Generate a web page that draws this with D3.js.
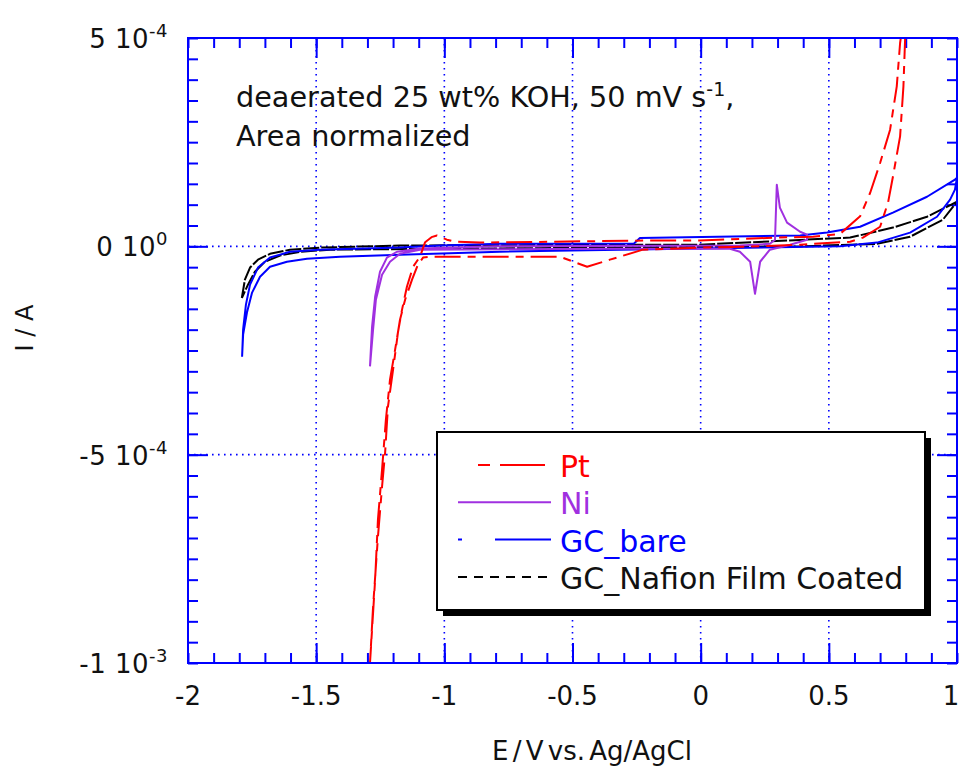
<!DOCTYPE html>
<html>
<head>
<meta charset="utf-8">
<script src="https://cdn.jsdelivr.net/npm/d3@7"></script>
<style>
    body { margin: 0; background: #fff; }
    text { font-family: "DejaVu Sans", sans-serif; }
</style>
</head>
<body>
<div id="chart-area"></div>
<script>
// currents are stored in units of 1e-4 A
const unit = 1e-4;

//Pt (dashed red)
const ptE = [-1.300, -1.290, -1.278, -1.259, -1.243, -1.231, -1.220, -1.200, -1.181, -1.165, -1.146, -1.122, -1.095, -1.075, -1.050, -1.029, -0.990, -0.958, -0.861, -0.588, -0.198, -0.003, 0.298, 0.438, 0.544, 0.622, 0.661, 0.700, 0.739, 0.765, 0.778, 0.790,
    0.800, 0.791, 0.778, 0.750, 0.731, 0.700, 0.633, 0.583, 0.388, 0.232, -0.003, -0.225, -0.354, -0.443, -0.549, -0.783, -1.056, -1.083, -1.103, -1.126, -1.153, -1.173, -1.192, -1.212, -1.228, -1.243, -1.259, -1.270, -1.282, -1.294];
const ptI = [-10.4, -10.0, -8.65, -6.97, -5.77, -4.95, -3.85, -2.96, -2.07, -1.52, -0.97, -0.49, -0.25, 0.10, 0.22, 0.26, 0.16, 0.11, 0.09, 0.11, 0.14, 0.14, 0.21, 0.23, 0.30, 0.72, 1.28, 2.0, 2.8, 3.84, 4.88, 5.4,
    5.4, 3.84, 2.64, 1.67, 1.05, 0.47, 0.21, 0.11, 0.04, 0.0, -0.03, -0.08, -0.32, -0.49, -0.25, -0.25, -0.25, -0.27, -0.44, -0.80, -1.28, -1.76, -2.48, -3.20, -4.16, -5.36, -6.56, -8.0, -9.2, -10.4];

//Ni (solid purple)
const niE = [-1.290, -1.282, -1.270, -1.251, -1.224, -1.185, -1.095, -0.800, 0.153, 0.270, 0.290, 0.297, 0.309, 0.337, 0.388, 0.415,
    0.415, 0.349, 0.270, 0.232, 0.212, 0.193, 0.153, 0.114, -0.393, -1.095, -1.173, -1.212, -1.243, -1.267, -1.278, -1.290];
const niI = [-2.88, -1.93, -1.21, -0.61, -0.27, -0.13, -0.05, 0.0, 0.02, 0.06, 0.16, 1.48, 0.93, 0.57, 0.35, 0.28,
    0.16, 0.04, -0.08, -0.37, -1.14, -0.37, -0.13, -0.06, -0.06, -0.08, -0.18, -0.37, -0.68, -1.28, -2.0, -2.88];

//GC bare (blue)
const gcE = [-1.789, -1.785, -1.774, -1.758, -1.727, -1.680, -1.602, -1.485, -1.173, -1.017, -0.783, -0.260, -0.237, 0.388, 0.493, 0.622, 0.750, 0.883, 0.992, 1.0,
    0.992, 0.973, 0.922, 0.817, 0.688, 0.544, -0.003, -0.783, -1.173, -1.407, -1.536, -1.614, -1.680, -1.719, -1.750, -1.770, -1.785, -1.789];
const gcI = [-2.65, -2.0, -1.4, -0.92, -0.51, -0.27, -0.13, -0.08, -0.03, 0.02, 0.06, 0.07, 0.20, 0.26, 0.33, 0.47, 0.81, 1.19, 1.60, 1.65,
    1.36, 1.12, 0.71, 0.33, 0.09, 0.0, -0.05, -0.13, -0.20, -0.25, -0.30, -0.37, -0.49, -0.73, -1.11, -1.59, -2.12, -2.65];

//GC Nafion film coated (dashed black)
const nafE = [-1.790, -1.778, -1.758, -1.727, -1.680, -1.602, -1.485, -1.173, -0.003, 0.583, 0.750, 0.883, 1.0,
    0.945, 0.817, 0.688, 0.388, -0.783, -1.446, -1.563, -1.641, -1.700, -1.739, -1.766, -1.790];
const nafI = [-1.24, -0.80, -0.51, -0.32, -0.18, -0.08, -0.03, 0.02, 0.04, 0.21, 0.45, 0.71, 1.07,
    0.64, 0.23, 0.06, 0.0, -0.05, -0.08, -0.13, -0.22, -0.37, -0.61, -0.92, -1.24];

const seriesNames = ["Pt", "Ni", "GC_bare", "GC_Nafion Film Coated"];
const seriesColors = ["#ff0000", "#a030e0", "#0000ff", "#000000"];

//Ticks
const xTicks = [-2, -1.5, -1, -0.5, 0, 0.5, 1];
const xTickLabels = ["-2", "-1.5", "-1", "-0.5", "0", "0.5", "1"];
const xGrid = [-1.5, -1, -0.5, 0, 0.5];
const yTicks = [5e-4, 0, -5e-4, -1e-3];
const yTickMant = ["5 10", "0 10", "-5 10", "-1 10"];
const yTickExp = ["-4", "0", "-4", "-3"];
const yGrid = [0, -5e-4];

const width = 961;
const height = 768;
const plot = { left: 188, right: 957, top: 38, bottom: 663 };

const svg = d3
    .select("#chart-area")
    .append("svg")
    .attr("width", width)
    .attr("height", height)
    .style("background", "#fff");

const xScale = d3.scaleLinear().domain([-2, 1]).range([plot.left, plot.right]);
const yScale = d3.scaleLinear().domain([-1e-3, 5e-4]).range([plot.bottom, plot.top]);

svg.append("defs")
    .append("clipPath")
    .attr("id", "plot-clip")
    .append("rect")
    .attr("x", plot.left)
    .attr("y", plot.top)
    .attr("width", plot.right - plot.left)
    .attr("height", plot.bottom - plot.top);

//Gridlines (dotted)
const grid = svg.append("g").attr("stroke", "#0000ff").attr("stroke-width", 1.6).attr("stroke-dasharray", "1.6,4.4");
xGrid.forEach((v) => {
    grid.append("line")
        .attr("x1", xScale(v)).attr("x2", xScale(v))
        .attr("y1", plot.top).attr("y2", plot.bottom);
});
yGrid.forEach((v) => {
    grid.append("line")
        .attr("x1", plot.left).attr("x2", plot.right)
        .attr("y1", yScale(v)).attr("y2", yScale(v));
});

//Axes with inward ticks on all four sides
const xMinor = d3.range(-20, 11).map((d) => d / 10);
const yMinor = d3.range(-20, 11).map((d) => d * 5e-5);
const addAxis = (axis, tx, ty) => {
    const a = svg.append("g")
        .attr("transform", `translate(${tx}, ${ty})`)
        .call(axis);
    a.selectAll("text").remove();
    a.select(".domain").remove();
    a.selectAll("line").attr("stroke", "#0000ff").attr("stroke-width", 2);
};
addAxis(d3.axisBottom(xScale).tickValues(xMinor).tickSize(-10), 0, plot.bottom);
addAxis(d3.axisTop(xScale).tickValues(xMinor).tickSize(-10), 0, plot.top);
addAxis(d3.axisLeft(yScale).tickValues(yMinor).tickSize(-10), plot.left, 0);
addAxis(d3.axisRight(yScale).tickValues(yMinor).tickSize(-10), plot.right, 0);
addAxis(d3.axisBottom(xScale).tickValues(xGrid).tickSize(-20), 0, plot.bottom);
addAxis(d3.axisTop(xScale).tickValues(xGrid).tickSize(-20), 0, plot.top);
addAxis(d3.axisLeft(yScale).tickValues(yGrid).tickSize(-20), plot.left, 0);
addAxis(d3.axisRight(yScale).tickValues(yGrid).tickSize(-20), plot.right, 0);

//Curves
const line = d3.line().x((d) => xScale(d[0])).y((d) => yScale(d[1] * unit));
const curves = [
    { E: ptE, I: ptI, dash: "26,7,8,7" },
    { E: niE, I: niI, dash: null },
    { E: gcE, I: gcI, dash: null },
    { E: nafE, I: nafI, dash: "16,2" },
];
const curveG = svg.append("g").attr("clip-path", "url(#plot-clip)");
[3, 2, 1, 0].forEach((i) => {
    const c = curves[i];
    curveG.append("path")
        .datum(c.E.map((e, j) => [e, c.I[j]]))
        .attr("d", line)
        .attr("fill", "none")
        .attr("stroke", seriesColors[i])
        .attr("stroke-width", 2)
        .attr("stroke-linejoin", "round")
        .attr("stroke-dasharray", c.dash);
});

//Frame
svg.append("rect")
    .attr("x", plot.left)
    .attr("y", plot.top)
    .attr("width", plot.right - plot.left)
    .attr("height", plot.bottom - plot.top)
    .attr("fill", "none")
    .attr("stroke", "#0000ff")
    .attr("stroke-width", 2);

//Tick labels
svg.append("g")
    .selectAll("text")
    .data(xTicks)
    .join("text")
    .attr("x", (d) => Math.min(xScale(d), 951))
    .attr("y", 705)
    .attr("text-anchor", "middle")
    .attr("font-size", "26px")
    .attr("fill", "#111")
    .text((d, i) => xTickLabels[i]);

yTicks.forEach((v, i) => {
    const t = svg.append("text")
        .attr("x", 168)
        .attr("y", yScale(v) + 10)
        .attr("text-anchor", "end")
        .attr("font-size", "26px")
        .attr("letter-spacing", "0.5px")
        .attr("fill", "#111");
    t.append("tspan").text(yTickMant[i]);
    t.append("tspan").attr("dy", -11).attr("font-size", "18px").text(yTickExp[i]);
});

//Axis labels
svg.append("text")
    .attr("x", 592)
    .attr("y", 760)
    .attr("text-anchor", "middle")
    .attr("font-size", "26px")
    .attr("word-spacing", "-4px")
    .attr("fill", "#111")
    .text("E / V vs. Ag/AgCl");

svg.append("text")
    .attr("transform", "translate(33, 328) rotate(-90)")
    .attr("text-anchor", "middle")
    .attr("font-size", "24px")
    .attr("fill", "#111")
    .text("I / A");

//Annotation
const note = svg.append("text")
    .attr("x", 236)
    .attr("y", 107)
    .attr("font-size", "28.7px")
    .attr("fill", "#111");
note.append("tspan").text("deaerated 25 wt% KOH, 50 mV s");
note.append("tspan").attr("dy", -11).attr("font-size", "19px").text("-1");
note.append("tspan").attr("dy", 11).text(",");
svg.append("text")
    .attr("x", 236)
    .attr("y", 146)
    .attr("font-size", "28.7px")
    .attr("fill", "#111")
    .text("Area normalized");

//Legend
const legend = svg.append("g").attr("class", "legend");
legend.append("rect")
    .attr("x", 443).attr("y", 438)
    .attr("width", 488).attr("height", 178)
    .attr("fill", "#000");
legend.append("rect")
    .attr("x", 437).attr("y", 432)
    .attr("width", 488).attr("height", 178)
    .attr("fill", "#fff")
    .attr("stroke", "#000")
    .attr("stroke-width", 2);

const legendDash = ["45,20,12,10", null, "4,33,60", "9,7"];
const legendOffset = [45, 0, 0, 0];
seriesNames.forEach((name, i) => {
    const yBase = 477 + 37.3 * i;
    legend.append("line")
        .attr("x1", 458).attr("x2", 551)
        .attr("y1", yBase - 12).attr("y2", yBase - 12)
        .attr("stroke", seriesColors[i])
        .attr("stroke-width", 2)
        .attr("stroke-dasharray", legendDash[i])
        .attr("stroke-dashoffset", legendOffset[i]);
    legend.append("text")
        .attr("x", 560)
        .attr("y", yBase)
        .attr("font-size", "30px")
        .attr("fill", seriesColors[i] === "#000000" ? "#111" : seriesColors[i])
        .text(name);
});
</script>
</body>
</html>
